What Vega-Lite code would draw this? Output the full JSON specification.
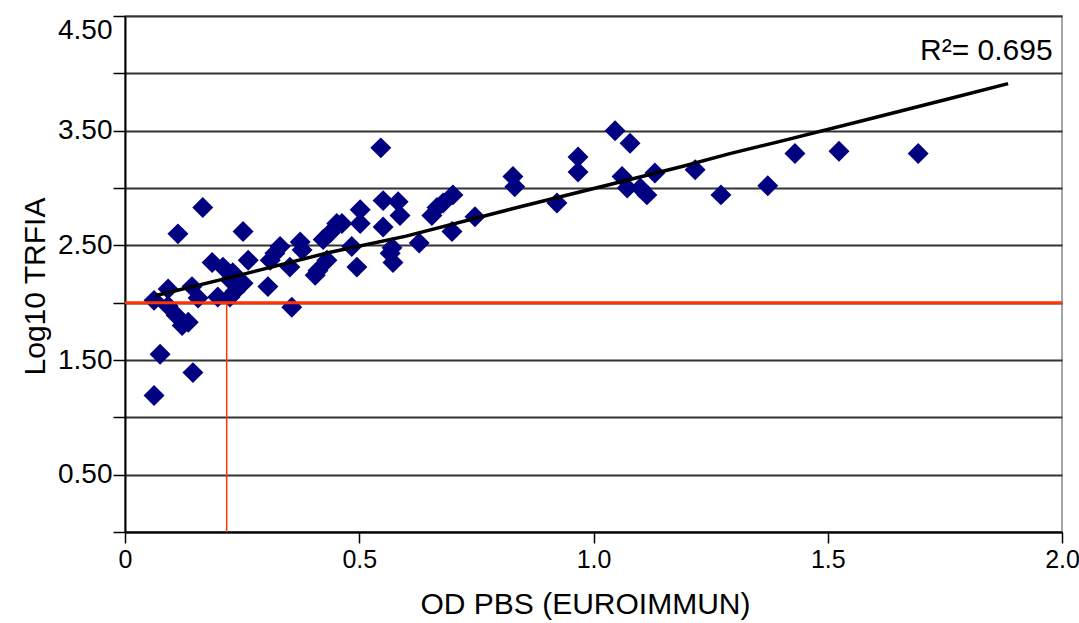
{
  "$schema": "https://vega.github.io/schema/vega-lite/v6.json",
  "width": 937,
  "height": 516,
  "autosize": "none",
  "padding": {"left": 125, "top": 16, "right": 17, "bottom": 91},
  "background": "white",
  "config": {
    "view": {"stroke": "#888", "strokeWidth": 1.5},
    "font": "Liberation Sans"
  },
  "datasets": {
    "pts": [
      {"x": 0.062, "y": 1.19}, {"x": 0.075, "y": 1.55}, {"x": 0.145, "y": 1.39},
      {"x": 0.062, "y": 2.02}, {"x": 0.092, "y": 2.12}, {"x": 0.092, "y": 1.97},
      {"x": 0.109, "y": 1.89}, {"x": 0.122, "y": 1.8}, {"x": 0.135, "y": 1.83},
      {"x": 0.113, "y": 2.6}, {"x": 0.166, "y": 2.83}, {"x": 0.143, "y": 2.14},
      {"x": 0.156, "y": 2.04}, {"x": 0.186, "y": 2.35}, {"x": 0.209, "y": 2.31},
      {"x": 0.198, "y": 2.05}, {"x": 0.224, "y": 2.05}, {"x": 0.224, "y": 2.2},
      {"x": 0.235, "y": 2.1}, {"x": 0.252, "y": 2.62}, {"x": 0.263, "y": 2.37},
      {"x": 0.23, "y": 2.26}, {"x": 0.252, "y": 2.17}, {"x": 0.305, "y": 2.14},
      {"x": 0.356, "y": 1.96}, {"x": 0.32, "y": 2.43}, {"x": 0.331, "y": 2.49},
      {"x": 0.31, "y": 2.37}, {"x": 0.352, "y": 2.31}, {"x": 0.374, "y": 2.53},
      {"x": 0.378, "y": 2.46}, {"x": 0.412, "y": 2.28}, {"x": 0.406, "y": 2.24},
      {"x": 0.431, "y": 2.37}, {"x": 0.438, "y": 2.61}, {"x": 0.452, "y": 2.69},
      {"x": 0.423, "y": 2.55}, {"x": 0.463, "y": 2.69}, {"x": 0.546, "y": 3.35},
      {"x": 0.502, "y": 2.81}, {"x": 0.502, "y": 2.69}, {"x": 0.484, "y": 2.49},
      {"x": 0.495, "y": 2.31}, {"x": 0.551, "y": 2.89}, {"x": 0.583, "y": 2.88},
      {"x": 0.587, "y": 2.76}, {"x": 0.551, "y": 2.66}, {"x": 0.57, "y": 2.48},
      {"x": 0.566, "y": 2.43}, {"x": 0.572, "y": 2.35}, {"x": 0.628, "y": 2.52},
      {"x": 0.666, "y": 2.83}, {"x": 0.655, "y": 2.76}, {"x": 0.7, "y": 2.94},
      {"x": 0.679, "y": 2.87}, {"x": 0.698, "y": 2.62}, {"x": 0.747, "y": 2.75},
      {"x": 0.828, "y": 3.1}, {"x": 0.832, "y": 3.01}, {"x": 0.922, "y": 2.87},
      {"x": 0.967, "y": 3.27}, {"x": 0.967, "y": 3.14}, {"x": 1.046, "y": 3.5},
      {"x": 1.078, "y": 3.39}, {"x": 1.061, "y": 3.1}, {"x": 1.072, "y": 3.0},
      {"x": 1.114, "y": 2.94}, {"x": 1.131, "y": 3.13}, {"x": 1.1, "y": 3.0},
      {"x": 1.217, "y": 3.16}, {"x": 1.272, "y": 2.94}, {"x": 1.372, "y": 3.02},
      {"x": 1.43, "y": 3.3}, {"x": 1.524, "y": 3.32}, {"x": 1.693, "y": 3.3}
    ],
    "fit": [
      {"x": 0.064, "y": 2.06}, {"x": 0.245, "y": 2.24}, {"x": 0.438, "y": 2.44},
      {"x": 0.6, "y": 2.58}, {"x": 0.837, "y": 2.83}, {"x": 1.035, "y": 3.03},
      {"x": 1.191, "y": 3.19}, {"x": 1.291, "y": 3.3}, {"x": 1.392, "y": 3.4},
      {"x": 1.597, "y": 3.61}, {"x": 1.761, "y": 3.78}, {"x": 1.885, "y": 3.91}
    ],
    "hline": [{"y": 2.0}],
    "vline": [{"x": 0.217, "y0": 0, "y1": 2.0}],
    "note": [{"x": 1.98, "y": 4.115, "t": "R²= 0.695"}]
  },
  "layer": [
    {
      "data": {"name": "pts"},
      "mark": {"type": "point", "shape": "diamond", "filled": true, "color": "#000080", "opacity": 1, "size": 440},
      "encoding": {
        "x": {
          "field": "x", "type": "quantitative",
          "scale": {"domain": [0, 2], "nice": false, "zero": false},
          "axis": {
            "values": [0, 0.5, 1, 1.5, 2],
            "labelExpr": "datum.value == 0 ? '0' : format(datum.value, '.1f')",
            "grid": false,
            "domainColor": "#000", "domainWidth": 2,
            "tickColor": "#000", "tickWidth": 1.5, "tickSize": 11,
            "labelFont": "Liberation Sans", "labelFontSize": 25, "labelColor": "#000",
            "labelPadding": 4, "labelFlush": false, "labelOverlap": false, "labelBound": false,
            "title": "OD PBS (EUROIMMUN)",
            "titleFont": "Liberation Sans", "titleFontSize": 30, "titleFontWeight": "normal", "titleColor": "#000",
            "titleX": 460, "titleY": 81, "titleAlign": "center", "titleBaseline": "alphabetic"
          }
        },
        "y": {
          "field": "y", "type": "quantitative",
          "scale": {"domain": [0, 4.5], "nice": false, "zero": false},
          "axis": {
            "values": [0, 0.5, 1, 1.5, 2, 2.5, 3, 3.5, 4, 4.5],
            "labelExpr": "datum.value % 1 == 0 ? '' : format(datum.value, '.2f')",
            "grid": true, "gridColor": "#333", "gridWidth": 2,
            "domainColor": "#000", "domainWidth": 2,
            "tickColor": "#000", "tickWidth": 1.5, "tickSize": 12,
            "labelFont": "Liberation Sans", "labelFontSize": 28, "labelColor": "#000",
            "labelPadding": 1, "labelFlush": true, "labelOverlap": false,
            "title": "Log10 TRFIA",
            "titleFont": "Liberation Sans", "titleFontSize": 30, "titleFontWeight": "normal", "titleColor": "#000",
            "titleX": -90, "titleY": 270, "titleAngle": -90, "titleAlign": "center", "titleBaseline": "middle"
          }
        }
      }
    },
    {
      "data": {"name": "hline"},
      "mark": {"type": "rule", "color": "#ff3300", "strokeWidth": 3},
      "encoding": {"y": {"field": "y", "type": "quantitative"}}
    },
    {
      "data": {"name": "vline"},
      "mark": {"type": "rule", "color": "#ff3300", "strokeWidth": 1.5},
      "encoding": {
        "x": {"field": "x", "type": "quantitative"},
        "y": {"field": "y0", "type": "quantitative"},
        "y2": {"field": "y1"}
      }
    },
    {
      "data": {"name": "fit"},
      "mark": {"type": "line", "color": "#000", "strokeWidth": 3.5},
      "encoding": {
        "x": {"field": "x", "type": "quantitative"},
        "y": {"field": "y", "type": "quantitative"}
      }
    },
    {
      "data": {"name": "note"},
      "mark": {"type": "text", "align": "right", "baseline": "alphabetic", "font": "Liberation Sans", "fontSize": 30, "color": "#000"},
      "encoding": {
        "x": {"field": "x", "type": "quantitative"},
        "y": {"field": "y", "type": "quantitative"},
        "text": {"field": "t"}
      }
    }
  ]
}
